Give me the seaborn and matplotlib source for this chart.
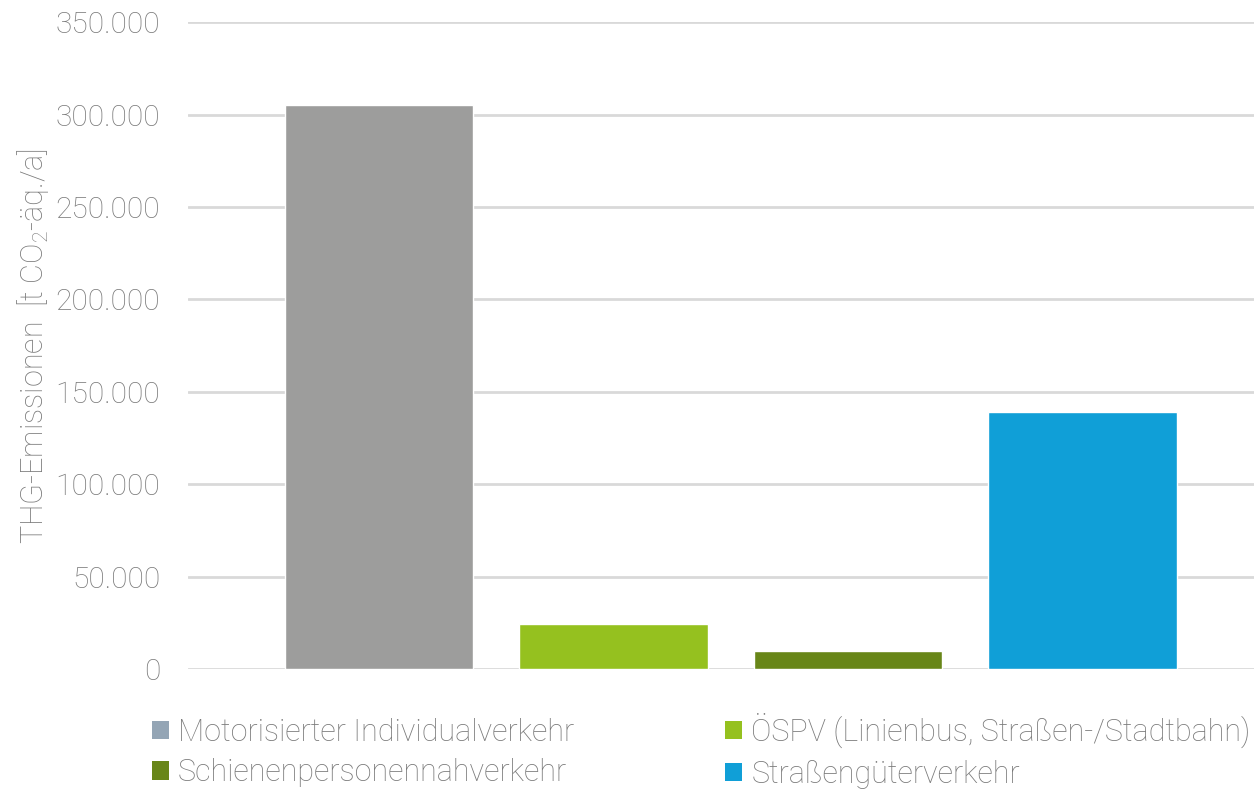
import matplotlib.pyplot as plt
import pandas as pd
import seaborn as sns
from matplotlib.patches import Patch
from matplotlib.ticker import FuncFormatter

# data
sectors = [
    "Motorisierter Individualverkehr",
    "ÖSPV (Linienbus, Straßen-/Stadtbahn)",
    "Schienenpersonennahverkehr",
    "Straßengüterverkehr",
]
emissions = [305000, 24500, 10000, 139000]
colors = ["#9D9D9C", "#95C11F", "#688618", "#109FD7"]
legend_colors = ["#94A5B5", "#95C11F", "#688618", "#109FD7"]
y_ticks = [0, 50000, 100000, 150000, 200000, 250000, 300000, 350000]

df = pd.DataFrame({"sector": sectors, "value": emissions})

sns.set_theme(style="white")
plt.rcParams["font.family"] = ["Roboto", "DejaVu Sans"]
plt.rcParams["mathtext.default"] = "regular"
text_grey = "#7A7A7A"

fig = plt.figure(figsize=(12.54, 7.89), dpi=100)
ax = fig.add_axes([0.15, 0.152, 0.85, 0.82])

sns.barplot(data=df, x="sector", y="value", hue="sector", palette=colors,
            saturation=1, dodge=False, width=0.805, legend=False, ax=ax, zorder=3)

ax.set_xlim(-0.815, 3.733)
ax.set_ylim(0, 350000)
ax.set_yticks(y_ticks)
ax.yaxis.set_major_formatter(FuncFormatter(lambda v, p: f"{int(v):,}".replace(",", ".")))
ax.set_xticks([])
ax.set_xlabel("")
ax.set_ylabel("THG-Emissionen  [t CO$_2$-äq./a]", fontsize=22, color=text_grey,
              fontweight="light", labelpad=3)
ax.tick_params(axis="y", length=0, pad=20, labelsize=21.5, labelcolor=text_grey)
for lab in ax.get_yticklabels():
    lab.set_fontweight("light")
ax.grid(axis="y", color="#D9D9D9", linewidth=2, zorder=0)
for s in ax.spines.values():
    s.set_visible(False)

# legend: row 1 = items 0 and 1, row 2 = items 2 and 3
order = [0, 2, 1, 3]
handles = [Patch(facecolor=legend_colors[i], edgecolor="none") for i in order]
labels = [sectors[i] for i in order]
leg = fig.legend(handles, labels, loc="upper left", bbox_to_anchor=(0.1115, 0.112),
                 ncol=2, frameon=False, fontsize=22, handlelength=0.55,
                 handleheight=0.55, handletextpad=0.3, columnspacing=4.95,
                 labelspacing=0.38, borderaxespad=0)
for t in leg.get_texts():
    t.set_color(text_grey)
    t.set_fontweight("light")

fig.savefig("out.png", dpi=100)
